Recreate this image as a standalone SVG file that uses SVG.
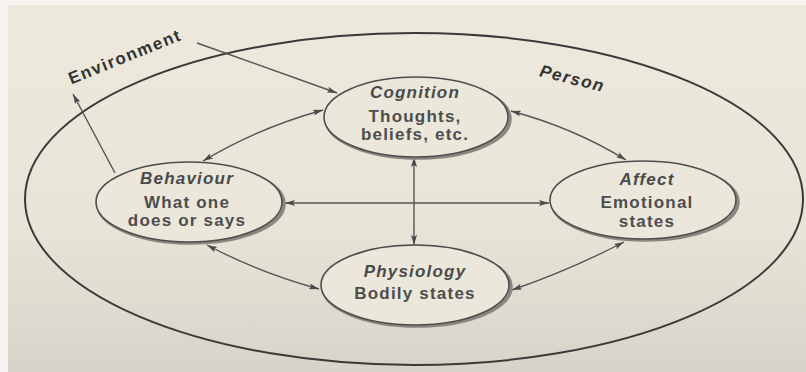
<svg xmlns="http://www.w3.org/2000/svg" width="806" height="372" viewBox="0 0 806 372">
<defs>
<linearGradient id="bg" x1="0" y1="0" x2="0" y2="1">
<stop offset="0" stop-color="#ede9dc"/>
<stop offset="0.6" stop-color="#e8e4d7"/>
<stop offset="1" stop-color="#d6d4ca"/>
</linearGradient>
<marker id="ah" viewBox="0 0 10 6" refX="10" refY="3" markerWidth="10" markerHeight="6" markerUnits="userSpaceOnUse" orient="auto-start-reverse">
<path d="M0,0 L10,3 L0,6 L2,3 Z" fill="#4a4a4a"/>
</marker>
</defs>
<style>
.node-shadow{fill:none;stroke:#8a8780;stroke-width:3.5}
.node{fill:#ebe7da;stroke:#4d4d4d;stroke-width:1.6}
.title{font-family:"Liberation Sans",Arial,sans-serif;font-size:17px;font-weight:bold;font-style:italic;fill:#4a4a4a;letter-spacing:1.2px;text-anchor:middle}
.body{font-family:"Liberation Sans",Arial,sans-serif;font-size:17px;font-weight:bold;fill:#4e4e4e;letter-spacing:1.2px;text-anchor:middle}
.label{font-family:"Liberation Sans",Arial,sans-serif;font-size:17px;font-weight:bold;fill:#333;letter-spacing:1.5px;text-anchor:middle}
.conn{fill:none;stroke:#555;stroke-width:1.4}
</style>
<rect x="0" y="0" width="806" height="372" fill="#f6f5f1"/>
<rect x="8" y="5" width="798" height="367" fill="url(#bg)"/>

<g id="person">
<ellipse cx="414" cy="199" rx="389" ry="166" fill="none" stroke="#3a3a3a" stroke-width="2"/>
<text class="label" x="571" y="84" transform="rotate(14 571 84)" font-style="italic">Person</text>
</g>

<g id="environment">
<text class="label" x="127" y="62" transform="rotate(-22 127 62)">Environment</text>
</g>

<g id="connectors">
<path class="conn" d="M197,43 L337,93" marker-end="url(#ah)"/>
<path class="conn" d="M115,173 L73,94" marker-end="url(#ah)"/>
<path class="conn" d="M203,161 Q258,128 323,110" marker-start="url(#ah)" marker-end="url(#ah)"/>
<path class="conn" d="M511,111 Q574,128 626,160" marker-start="url(#ah)" marker-end="url(#ah)"/>
<path class="conn" d="M414,157 L414,245" marker-start="url(#ah)" marker-end="url(#ah)"/>
<path class="conn" d="M285,203 L549,203" marker-start="url(#ah)" marker-end="url(#ah)"/>
<path class="conn" d="M207,245 Q258,272 319,289" marker-start="url(#ah)" marker-end="url(#ah)"/>
<path class="conn" d="M512,290 Q570,270 624,242" marker-start="url(#ah)" marker-end="url(#ah)"/>
</g>

<g id="cognition">
<ellipse class="node-shadow" cx="418" cy="119" rx="92" ry="39"/>
<ellipse class="node" cx="416" cy="117" rx="92" ry="40"/>
<text class="title" x="415" y="98">Cognition</text>
<text class="body" x="415" y="122">Thoughts,</text>
<text class="body" x="415" y="140">beliefs, etc.</text>
</g>

<g id="behaviour">
<ellipse class="node-shadow" cx="191" cy="204" rx="93" ry="39"/>
<ellipse class="node" cx="189" cy="202" rx="93" ry="40"/>
<text class="title" x="187" y="184">Behaviour</text>
<text class="body" x="187" y="208">What one</text>
<text class="body" x="187" y="226">does or says</text>
</g>

<g id="affect">
<ellipse class="node-shadow" cx="645" cy="202" rx="93" ry="38"/>
<ellipse class="node" cx="643" cy="200" rx="93" ry="39"/>
<text class="title" x="647" y="185">Affect</text>
<text class="body" x="647" y="208">Emotional</text>
<text class="body" x="647" y="227">states</text>
</g>

<g id="physiology">
<ellipse class="node-shadow" cx="417" cy="287" rx="94" ry="39"/>
<ellipse class="node" cx="415" cy="285" rx="94" ry="40"/>
<text class="title" x="415" y="277">Physiology</text>
<text class="body" x="415" y="299">Bodily states</text>
</g>
</svg>
